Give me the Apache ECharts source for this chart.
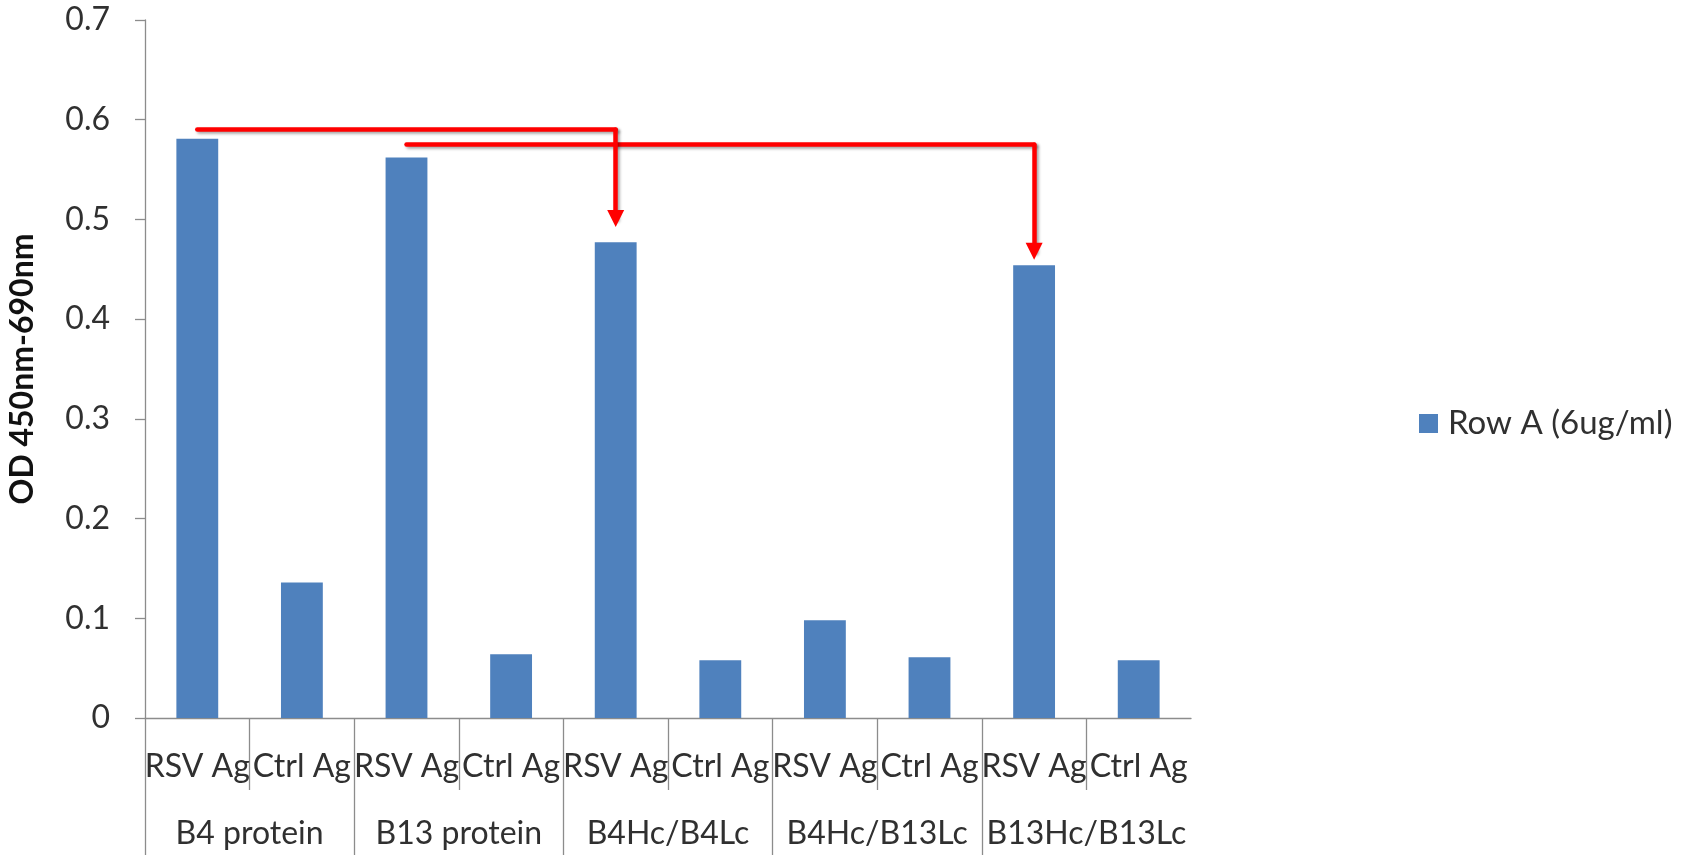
<!DOCTYPE html>
<html>
<head>
<meta charset="utf-8">
<title>OD 450nm-690nm</title>
<script src="https://cdn.jsdelivr.net/npm/echarts@6/dist/echarts.min.js"></script>
<style>
  html, body { margin: 0; padding: 0; background: #ffffff; }
  #chart { width: 1690px; height: 855px; }
</style>
</head>
<body>
<div id="chart"></div>
<script>
// Antigen per well, grouped by antibody
const conditions = ['RSV Ag', 'Ctrl Ag', 'RSV Ag', 'Ctrl Ag', 'RSV Ag', 'Ctrl Ag', 'RSV Ag', 'Ctrl Ag', 'RSV Ag', 'Ctrl Ag'];
const groups = ['B4 protein', 'B13 protein', 'B4Hc/B4Lc', 'B4Hc/B13Lc', 'B13Hc/B13Lc'];
const seriesName = 'Row A (6ug/ml)';
const odValues = [0.581, 0.136, 0.562, 0.064, 0.477, 0.058, 0.098, 0.061, 0.454, 0.058];

// Value axis
const yMin = 0;
const yMax = 0.7;
const yStep = 0.1;
const yTitle = 'OD 450nm-690nm';

// Comparison arrows: [start, corner, tip] in (category index, OD) units
const arrows = [
  [[0, 0.590], [3.95, 0.590], [3.95, 0.501]],
  [[1.95, 0.575], [8, 0.575], [8, 0.468]]
];

const FONT = 'Lato, "Open Sans", sans-serif';
const TEXT = '#303030';
const AXIS_GREY = '#8c8c8c';
const BAR_BLUE = '#4f81bd';

const groupBoundaries = groups.map((g, i) => i * 2);
const innerBoundaries = groups.map((g, i) => i * 2 + 1);

const arrowStyle = {
  color: '#ff0000',
  width: 4.5,
  opacity: 1,
  cap: 'round',
  shadowColor: 'rgba(0,0,0,0.35)',
  shadowBlur: 3,
  shadowOffsetX: 2,
  shadowOffsetY: 2
};

const chart = echarts.init(document.getElementById('chart'), null, { renderer: 'canvas' });

chart.setOption({
  animation: false,
  backgroundColor: '#ffffff',
  textStyle: { fontFamily: FONT },
  grid: {
    left: 145,
    top: 20,
    width: 1046,
    bottom: 137,
    containLabel: false,
    outerBoundsMode: 'none'
  },
  legend: {
    show: true,
    left: 1419,
    top: 407,
    padding: 0,
    itemWidth: 19,
    itemHeight: 19,
    icon: 'rect',
    textStyle: {
      fontFamily: FONT,
      fontSize: 33,
      color: TEXT,
      padding: [0, 0, 0, 5]
    },
    data: [seriesName]
  },
  xAxis: [
    {
      // conditions row
      type: 'category',
      data: conditions,
      position: 'bottom',
      boundaryGap: true,
      axisLine: { show: true, lineStyle: { color: AXIS_GREY, width: 1.3 } },
      axisTick: { show: false },
      splitLine: { show: false },
      axisLabel: {
        interval: 0,
        hideOverlap: false,
        margin: 33,
        fontFamily: FONT,
        fontSize: 32,
        color: TEXT
      }
    },
    {
      // antibody row
      type: 'category',
      data: groups,
      position: 'bottom',
      boundaryGap: true,
      axisLine: { show: false },
      axisTick: { show: false },
      splitLine: { show: false },
      axisLabel: {
        interval: 0,
        hideOverlap: false,
        margin: 100,
        fontFamily: FONT,
        fontSize: 32,
        color: TEXT
      }
    },
    {
      // short separators between the two antigens of a group
      type: 'value',
      min: 0,
      max: conditions.length,
      position: 'bottom',
      axisLine: { show: false },
      splitLine: { show: false },
      axisLabel: { show: false },
      axisTick: {
        show: true,
        inside: false,
        length: 72,
        customValues: innerBoundaries,
        lineStyle: { color: AXIS_GREY, width: 1.3 }
      }
    },
    {
      // long separators between groups
      type: 'value',
      min: 0,
      max: conditions.length,
      position: 'bottom',
      axisLine: { show: false },
      splitLine: { show: false },
      axisLabel: { show: false },
      axisTick: {
        show: true,
        inside: false,
        length: 140,
        customValues: groupBoundaries,
        lineStyle: { color: AXIS_GREY, width: 1.3 }
      }
    }
  ],
  yAxis: {
    type: 'value',
    min: yMin,
    max: yMax,
    interval: yStep,
    name: yTitle,
    nameLocation: 'middle',
    nameRotate: 90,
    nameGap: 106,
    nameTextStyle: {
      fontFamily: FONT,
      fontSize: 32,
      fontWeight: 'bold',
      color: '#111111'
    },
    axisLine: { show: true, lineStyle: { color: AXIS_GREY, width: 1.3 } },
    axisTick: { show: true, inside: false, length: 10, lineStyle: { color: AXIS_GREY, width: 1.3 } },
    splitLine: { show: false },
    axisLabel: {
      margin: 35,
      fontFamily: FONT,
      fontSize: 32,
      color: TEXT
    }
  },
  series: [
    {
      name: seriesName,
      type: 'bar',
      xAxisIndex: 0,
      yAxisIndex: 0,
      data: odValues,
      barWidth: '40%',
      itemStyle: { color: BAR_BLUE },
      emphasis: { disabled: true }
    },
    {
      // horizontal runs of the arrows
      type: 'lines',
      coordinateSystem: 'cartesian2d',
      xAxisIndex: 0,
      yAxisIndex: 0,
      symbol: ['none', 'none'],
      lineStyle: arrowStyle,
      silent: true,
      z: 5,
      data: arrows.map(a => ({ coords: [a[0], a[1]] }))
    },
    {
      // vertical drops ending in arrowheads
      type: 'lines',
      coordinateSystem: 'cartesian2d',
      xAxisIndex: 0,
      yAxisIndex: 0,
      symbol: ['none', 'triangle'],
      symbolSize: 17,
      lineStyle: arrowStyle,
      silent: true,
      z: 5,
      data: arrows.map(a => ({ coords: [a[1], a[2]] }))
    }
  ]
});
</script>
</body>
</html>
